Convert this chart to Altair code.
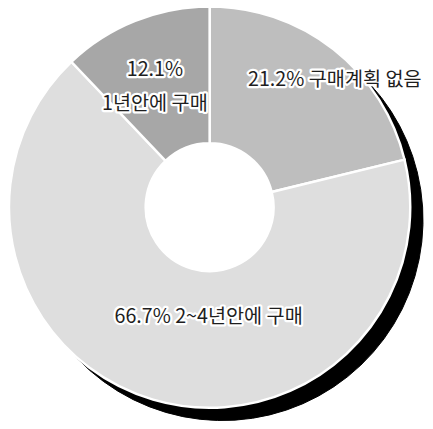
import altair as alt
import pandas as pd

categories = ["구매계획 없음", "2~4년안에 구매", "1년안에 구매"]
values = [21.2, 66.7, 12.1]
labels = ["21.2% 구매계획 없음", "66.7% 2~4년안에 구매", "12.1%\n1년안에 구매"]
colors = ["#bebebe", "#dedede", "#a7a7a7"]

df = pd.DataFrame({
    "cat": categories,
    "value": values,
    "label": labels,
    "idx": list(range(len(categories))),
})

base = alt.Chart(df).encode(
    theta=alt.Theta("value:Q", stack=True),
    order=alt.Order("idx:Q"),
)

R = 204
shadow = base.mark_arc(
    radius=R, innerRadius=150, xOffset=13, yOffset=13,
    color="black", stroke="black", strokeWidth=1,
)

pie = base.mark_arc(
    radius=R, innerRadius=65, stroke="white", strokeWidth=2.5,
).encode(
    color=alt.Color("cat:N", scale=alt.Scale(domain=categories, range=colors), legend=None)
)

label_style = [
    {"r": 164, "dx": 26},
    {"r": 117, "dx": 32},
    {"r": 150, "dx": 0},
]

text_layers = []
for i, st in enumerate(label_style):
    t = base.transform_calculate(
        t=f"datum.idx == {i} ? datum.label : ''"
    )
    common = dict(
        radius=st["r"], dx=st["dx"], font="Noto Sans CJK KR", fontSize=20,
        lineBreak="\n", lineHeight=35, align="center", baseline="middle",
    )
    halo = t.mark_text(stroke="white", strokeWidth=4.5, strokeJoin="round",
                       color="white", **common).encode(text="t:N")
    fg = t.mark_text(color="#1e1e1e", **common).encode(text="t:N")
    text_layers += [halo, fg]

chart = alt.layer(shadow, pie, *text_layers).properties(
    width=410, height=398,
    padding={"left": 0, "top": 0, "right": 14, "bottom": 15},
    autosize=alt.AutoSizeParams(type="none"),
).configure_view(stroke=None)

chart.save("out.html", embed_options={"renderer": "svg", "actions": False})
